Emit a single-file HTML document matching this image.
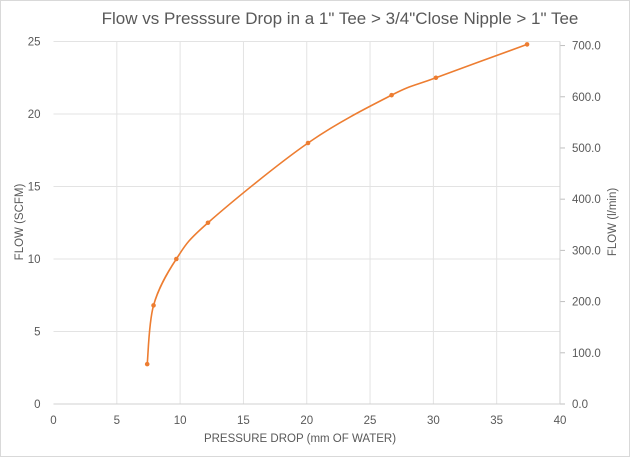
<!DOCTYPE html>
<html><head><meta charset="utf-8"><style>
html,body{margin:0;padding:0;background:#fff;}
svg{display:block;font-family:"Liberation Sans",sans-serif;}
</style></head><body>
<svg id="chart" width="630" height="457">
<rect x="0.5" y="0.5" width="629" height="456" fill="#fff" stroke="#d9d9d9"/>
<text x="340" y="24" text-anchor="middle" font-size="17" fill="#595959">Flow vs Presssure Drop in a 1" Tee &gt; 3/4"Close Nipple &gt; 1" Tee</text>
<g id="grid"></g><g id="axes"></g><g id="series"></g>
<text x="300" y="442" text-anchor="middle" font-size="11.5" fill="#595959">PRESSURE DROP (mm OF WATER)</text>
<text transform="translate(23,222) rotate(-90)" text-anchor="middle" font-size="11.5" fill="#595959">FLOW (SCFM)</text>
<text transform="translate(616,222) rotate(-90)" text-anchor="middle" font-size="11.5" fill="#595959">FLOW (l/min)</text>
</svg>
<script>
const xTicks=[0,5,10,15,20,25,30,35,40];
const yTicks=[0,5,10,15,20,25];
const y2Ticks=[0,100,200,300,400,500,600,700];
const pressure=[7.4,7.9,9.7,12.2,20.1,26.7,30.2,37.4];
const flow=[2.75,6.8,10,12.5,18,21.3,22.5,24.8];
const X0=53.5,X1=560,Y0=404,Y1=41.5;
const sx=v=>X0+(v/40)*(X1-X0);
const sy=v=>Y0-(v/25)*(Y0-Y1);
const sy2=v=>sy(v/28.3168);
const NS="http://www.w3.org/2000/svg";
function mk(tag,attrs,parent){const e=document.createElementNS(NS,tag);for(const k in attrs)e.setAttribute(k,attrs[k]);parent.appendChild(e);return e;}
const grid=document.getElementById('grid'),axes=document.getElementById('axes'),ser=document.getElementById('series');
xTicks.forEach(t=>{
 if(t>0){const l=mk('line',{x1:sx(t),x2:sx(t),y1:Y1,y2:Y0,stroke:'#e3e3e3'},grid);
 
 }
 const tx=mk('text',{x:sx(t),y:Y0+20,'text-anchor':'middle','font-size':'11.5',fill:'#595959'},axes);tx.textContent=t;
 
 
});
yTicks.forEach(t=>{
 if(t>0){const l=mk('line',{x1:X0,x2:X1,y1:sy(t),y2:sy(t),stroke:'#e3e3e3'},grid);
 
 }
 const tx=mk('text',{x:X0-13,y:sy(t)+4,'text-anchor':'end','font-size':'11.5',fill:'#595959'},axes);tx.textContent=t;
 
 
});
y2Ticks.forEach(t=>{
 const tk=mk('line',{x1:X1,x2:X1+5,y1:sy2(t),y2:sy2(t),stroke:'#bfbfbf'},axes);
 
 
 const tx=mk('text',{x:X1+12,y:sy2(t)+4,'font-size':'11.5',fill:'#595959'},axes);tx.textContent=t.toFixed(1);
 
 
});
const xa=mk('line',{x1:X0,x2:X1,y1:Y0,y2:Y0,stroke:'#d0d0d0'},axes);


const ya=mk('line',{x1:X1,x2:X1,y1:Y1,y2:Y0,stroke:'#d0d0d0'},axes);


const P=pressure.map((p,i)=>[sx(p),sy(flow[i])]);
let d='M'+P[0][0]+','+P[0][1];
for(let i=0;i<P.length-1;i++){
 const p0=P[i-1]||P[i],p1=P[i],p2=P[i+1],p3=P[i+2]||P[i+1],k=1/6;
 d+=' C'+(p1[0]+(p2[0]-p0[0])*k)+','+(p1[1]+(p2[1]-p0[1])*k)+' '+(p2[0]-(p3[0]-p1[0])*k)+','+(p2[1]-(p3[1]-p1[1])*k)+' '+p2[0]+','+p2[1];
}
const line=mk('path',{d:d,fill:'none',stroke:'#ed7d31','stroke-width':'1.6'},ser);


P.forEach(p=>{
 const c=mk('circle',{cx:p[0],cy:p[1],r:2.3,fill:'#ed7d31'},ser);
 
 
});
</script>
</body></html>
